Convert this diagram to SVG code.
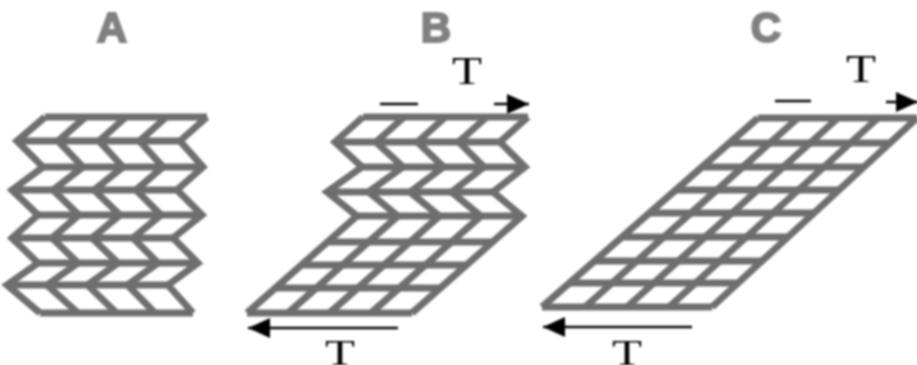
<svg xmlns="http://www.w3.org/2000/svg" width="917" height="365" viewBox="0 0 917 365">
<style>
.m{fill:none;stroke:#6e6e6e;stroke-width:7;stroke-linejoin:miter;stroke-miterlimit:3}
.t{font-family:"Liberation Serif",serif;font-size:40px;fill:#000;text-anchor:middle}
.b{font-size:36px}
.h{font-family:"Liberation Sans",sans-serif;font-size:42px;font-weight:bold;fill:#808080;stroke:#808080;stroke-width:2;text-anchor:middle}
.a{fill:none;stroke:#000;stroke-width:2.5}
</style>
<defs>
<filter id="b" x="-5%" y="-5%" width="110%" height="110%"><feGaussianBlur stdDeviation="0.8"/></filter>
<marker id="ah" markerUnits="userSpaceOnUse" markerWidth="30" markerHeight="24" refX="28" refY="12" orient="auto-start-reverse"><path d="M6 2L28 12L6 22Z" fill="#000"/></marker>
</defs>
<rect width="917" height="365" fill="#fff"/>
<g id="panel-a" filter="url(#b)">
<text class="h" x="112" y="42">A</text>
<path class="m" d="M45 117H207M17 141H180M43 167H203M12 190H177M38 215H202M12 238H173M38 263H198M7 285H168M40 313H193"/>
<path class="m" d="M45 117L17 141L43 167L12 190L38 215L12 238L38 263L7 285L40 313M85.500 117L58 141L83 167L53 190L79 215L52 238L78 263L47 285L78 313M126 117L99 141L123 167L94 190L120 215L92 238L118 263L87.500 285L116.500 313M166.500 117L139.500 141L163 167L136 190L161 215L133 238L158 263L127.500 285L155 313M207 117L180 141L203 167L177 190L202 215L173 238L198 263L168 285L193 313"/>
</g>
<g id="panel-b" filter="url(#b)">
<text class="h" x="436" y="42">B</text>
<path class="m" d="M363 117H528M335 142H500M362 167H525M327 192H493M357 216H522M327 242H492M301 265H466M274 288H439M247 313H412"/>
<path class="m" d="M363 117L335 142L362 167L327 192L357 216L247 313M404.250 117L376 142L403 167L368.500 192L398 216L288 313M445.500 117L417.500 142L443.500 167L410 192L439.500 216L329.500 313M486.750 117L458.750 142L484 167L451.500 192L481 216L371 313M528 117L500 142L525 167L493 192L522 216L412 313"/>
</g>
<g id="panel-c" filter="url(#b)">
<text class="h" x="766" y="42">C</text>
<path class="m" d="M758 118H917M729 143H890M702 167H864M676 190H839M649 213H814M622 237H788M595 261H762M570 283H738M542 307H712"/>
<path class="m" d="M758 118L542 307M798 118L585 307M838 118L627 307M878 118L669 307M917 118L712 307"/>
</g>
<g id="connectors" filter="url(#b)">
<path class="a" d="M380 104H418"/>
<path class="a" d="M494 104H529" marker-end="url(#ah)"/>
<path class="a" d="M398 328H248" marker-end="url(#ah)"/>
<path class="a" d="M775 101H811"/>
<path class="a" d="M886 102H918" marker-end="url(#ah)"/>
<path class="a" d="M692 327H543" marker-end="url(#ah)"/>
</g>
<g id="labels" filter="url(#b)">
<text class="t" x="467" y="84" textLength="30" lengthAdjust="spacingAndGlyphs">T</text>
<text class="t" x="861" y="82" textLength="30" lengthAdjust="spacingAndGlyphs">T</text>
<text class="t b" x="340" y="365" textLength="30" lengthAdjust="spacingAndGlyphs">T</text>
<text class="t b" x="627" y="365" textLength="30" lengthAdjust="spacingAndGlyphs">T</text>
</g>
</svg>
